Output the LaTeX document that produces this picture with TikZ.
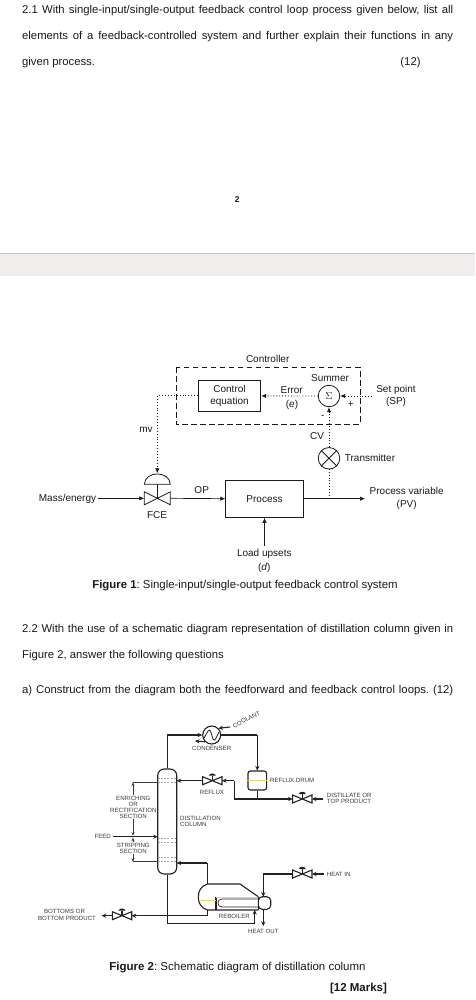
\documentclass[tikz,border=0pt]{standalone}
\usepackage{fontspec}
\setmainfont{Liberation Sans}
\usetikzlibrary{arrows.meta,calc}
\frenchspacing
\definecolor{bandfill}{HTML}{F1EEED}
\definecolor{bandedge}{HTML}{C9C7C6}
\definecolor{ink}{HTML}{1A1A1A}
\definecolor{smallink}{HTML}{3A3A3A}
\definecolor{pipe}{HTML}{222222}
\definecolor{yel}{HTML}{E3D96A}
\newcommand{\bodyline}[2]{\makebox[#1pt][s]{#2}}
\newcommand{\valvesym}[3]{%
  \coordinate (#1) at (#2,#3);
  \coordinate (#1-l) at (#2-9.7,#3);
  \coordinate (#1-r) at (#2+9.7,#3);
  \draw[pipeline] (#2-9.7,#3-4) -- (#2+9.7,#3+4) -- (#2+9.7,#3-4) -- (#2-9.7,#3+4) -- cycle;
  \draw[pipeline] (#2,#3) -- (#2,#3-5);
  \fill[pipe] (#2-3.5,#3-5) .. controls (#2-3,#3-8) and (#2+3,#3-8) .. (#2+3.5,#3-5) -- cycle;
}
\tikzset{
  x=1pt,y=-1pt,
  body/.style={font=\fontsize{11.3}{13}\selectfont,text=ink,inner sep=0pt},
  bodyleft/.style={body,anchor=west},
  lab/.style={font=\fontsize{10}{11}\selectfont,text=ink,inner sep=0pt,align=center},
  tiny/.style={font=\fontsize{6.1}{6.1}\selectfont,text=smallink,inner sep=0pt,align=center},
  tinyleft/.style={tiny,anchor=west,align=left},
  blockbox/.style={draw=ink,line width=.8pt,inner sep=0pt,align=center,font=\fontsize{10}{12.4}\selectfont,text=ink},
  flow/.style={draw=ink,line width=.7pt,-{Latex[length=5pt,width=4.4pt]}},
  signal/.style={draw=ink,line width=.9pt,dotted,-{Latex[length=5pt,width=4.4pt]}},
  signalplain/.style={draw=ink,line width=.9pt,dotted},
  pipeline/.style={draw=pipe,line width=1.1pt},
  pipeflow/.style={pipeline,-{Stealth[length=4.5pt,width=4.2pt]}},
  dimline/.style={draw=smallink,line width=.6pt},
  tray/.style={draw=gray!70,line width=.6pt,dash pattern=on 2pt off 1.2pt},
  yline/.style={draw=yel,line width=.9pt},
}
\begin{document}
\begin{tikzpicture}
\useasboundingbox (0,0) rectangle (475,1000);
\fill[white] (0,0) rectangle (475,1000);
% question text
\node[bodyleft] (q1a) at (22,11) {\bodyline{431}{2.1 With single-input/single-output feedback control loop process given below, list all}};
\node[bodyleft] (q1b) at (22,37) {\bodyline{431}{elements of a feedback-controlled system and further explain their functions in any}};
\node[bodyleft] (q1c) at (22,63) {given process.};
\node[body] (q1m) at (410.5,63) {(12)};
\node[font=\bfseries\fontsize{8.5}{10}\selectfont,text=ink,inner sep=0pt] (pageno) at (237.3,200) {2};
% page band
\fill[bandfill] (0,253) rectangle (475,276);
\fill[bandedge] (0,252.6) rectangle (475,254);
% Figure 1
\draw[ink,line width=.8pt,dash pattern=on 5.5pt off 3.5pt] (176,367.3) rectangle (360,424);
\node[lab] (ctrl) at (267.7,359.3) {Controller};
\node[blockbox,minimum width=62.4pt,minimum height=30.3pt] (ce) at (229.5,395.9) {Control\\equation};
\node[draw=ink,line width=.8pt,circle,minimum size=21.5pt,inner sep=0pt,text=ink] (sum) at (329,396) {$\Sigma$};
\node[draw=ink,line width=.8pt,circle,minimum size=21.5pt,inner sep=0pt] (tx) at (329,458.3) {};
\draw[ink,line width=.8pt] (tx.45) -- (tx.225) (tx.135) -- (tx.315);
\node[blockbox,minimum width=77.6pt,minimum height=37.3pt] (proc) at (264.5,498.7) {Process};
\node[lab] (summer) at (330,378) {Summer};
\node[lab] (err) at (291.7,389.7) {Error};
\node[lab] (erre) at (292,404.7) {(\emph{e})};
\node[lab] (plus) at (350.7,404.3) {+};
\node[lab] (minus) at (322.7,417.3) {-};
\node[lab] (sp) at (396,395.7) {Set point\\[1.5pt](SP)};
\node[lab] (cv) at (317,436) {CV};
\node[lab] (txl) at (370,458) {Transmitter};
\node[lab] (mv) at (146,430) {mv};
\node[lab] (op) at (201.7,490) {OP};
\node[lab] (fce) at (157,514.7) {FCE};
\node[lab] (mass) at (67.5,499.3) {Mass/energy};
\node[lab] (pv) at (406.7,498.5) {Process variable\\[2.5pt](PV)};
\node[lab] (load) at (264.3,561) {Load upsets\\[2.5pt](\emph{d})};
% FCE valve
\coordinate (fv) at (157.3,498.3);
\coordinate (fvl) at (144.3,498.3);
\coordinate (fvr) at (170.3,498.3);
\coordinate (fvt) at (157.3,473.3);
\draw[ink,line width=.8pt] (144.3,491.8) -- (170.3,504.8) -- (170.3,491.8) -- (144.3,504.8) -- cycle;
\draw[ink,line width=.8pt] (fv) -- (157.3,484.3);
\draw[ink,line width=.8pt] (144.3,484.3) .. controls (145,470.5) and (169.6,470.5) .. (170.3,484.3) -- cycle;
% Figure 1 connectors
\coordinate (mvc) at (157.3,395.9);
\coordinate (pvend) at (365,498.7);
\coordinate (pvtap) at (329,498.7);
\coordinate (spin) at (372,396);
\coordinate (massout) at (98,498.3);
\coordinate (loadtop) at (264.5,546);
\draw[signalplain] (ce.west) -- (mvc);
\draw[signal] (mvc) -- (fvt);
\draw[signal] (sum.west) -- (ce.east);
\draw[signal] (spin) -- (sum.east);
\draw[signal] (tx.north) -- (sum.south);
\draw[signalplain] (pvtap) -- (tx.south);
\draw[flow] (massout) -- (fvl);
\draw[flow] (fvr) -- (proc.west);
\draw[flow] (proc.east) -- (pvend);
\draw[flow] (loadtop) -- (proc.south);
\node[lab,font=\fontsize{11.4}{13}\selectfont] (cap1) at (245,586) {\textbf{Figure 1}: Single-input/single-output feedback control system};
% Question 2.2
\node[bodyleft] (q2a) at (22,630) {\bodyline{431}{2.2 With the use of a schematic diagram representation of distillation column given in}};
\node[bodyleft] (q2b) at (22,656) {Figure 2, answer the following questions};
\node[bodyleft] (q2c) at (22,691) {\bodyline{431}{a) Construct from the diagram both the feedforward and feedback control loops. (12)}};
% Figure 2: column
\node[draw=pipe,line width=1.1pt,minimum width=19pt,minimum height=105pt,rounded corners=6.5pt,inner sep=0pt] (col) at (167.2,821.5) {};
\draw[tray] (157.7,778.3) -- (176.7,778.3);
\draw[tray] (157.7,782.3) -- (176.7,782.3);
\draw[tray] (157.7,838.3) -- (176.7,838.3);
\draw[tray] (157.7,842.3) -- (176.7,842.3);
\draw[tray] (157.7,857.7) -- (176.7,857.7);
\draw[tray] (157.7,861.7) -- (176.7,861.7);
% condenser
\node[draw=pipe,line width=1.1pt,circle,minimum size=18pt,inner sep=0pt] (cond) at (211.7,735) {};
\draw[pipe,line width=.8pt] (204,738) -- (208,731) .. controls (209,729.5) and (210,730) .. (210.5,731) -- (213,739) .. controls (213.5,740.5) and (214.5,740.5) .. (215.5,739) -- (219,732);
\coordinate (ctop) at (167.2,735);
\draw[pipeline] (col.north) -- (ctop);
\draw[pipeflow] (ctop) -- (cond.west);
\coordinate (drumtop) at (257.3,735);
\node[draw=pipe,line width=1.1pt,minimum width=18.7pt,minimum height=19pt,rounded corners=2.5pt,inner sep=0pt] (drum) at (257.3,780.5) {};
\draw[yline] (drum.west) -- (drum.east);
\draw[pipeline] (cond.east) -- (drumtop);
\draw[pipeflow] (drumtop) -- (drum.north);
% coolant
\coordinate (coolout) at (230,727);
\coordinate (coolin) at (195,741);
\draw[pipeflow] (coolout) -- (cond.north east);
\draw[pipeflow] (cond.south west) -- (coolin);
\node[tiny,rotate=27] (coolant) at (246.5,719.5) {COOLANT};
\node[tiny] (condl) at (211.7,748.7) {CONDENSER};
\node[tinyleft] (drumL) at (270,780.3) {REFLUX DRUM};
% reflux
\coordinate (drumout) at (257.3,799);
\coordinate (refltee) at (234.3,799);
\coordinate (reflup) at (234.3,780.7);
\valvesym{rv}{212.3}{780.7}
\valvesym{dv}{302.3}{799}
\valvesym{hv}{302.3}{874}
\valvesym{bv}{122}{915.7}
\draw[pipeline] (drum.south) -- (drumout);
\draw[pipeline] (refltee) -- (drumout);
\draw[pipeflow] (drumout) -- (dv-l);
\draw[pipeline] (refltee) -- (reflup);
\draw[pipeflow] (reflup) -- (rv-r);
\coordinate (colref) at (176.7,780.7);
\draw[pipeflow] (rv-l) -- (colref);
\node[tiny] (refl) at (212,792) {REFLUX};
\coordinate (distend) at (323.3,799);
\draw[pipeflow] (distend) -- (dv-r);
\node[tinyleft] (dist) at (326.7,798.7) {DISTILLATE OR\\TOP PRODUCT};
\node[tinyleft] (dcol) at (180,821.3) {DISTILLATION\\COLUMN};
% sections
\coordinate (secA) at (133,782.3);
\coordinate (secC) at (133,861.7);
\coordinate (secA2) at (157.7,782.3);
\coordinate (secC2) at (157.7,861.7);
\draw[dimline] (secA) -- (secA2);
\draw[dimline] (secC) -- (secC2);
\draw[dimline,{Stealth[length=3.5pt,width=3pt]}-] (secA) -- (133,795);
\draw[dimline,-{Stealth[length=3.5pt,width=3pt]}] (133,819) -- (133,835.7);
\draw[dimline,{Stealth[length=3.5pt,width=3pt]}-] (133,837.7) -- (133,842);
\draw[dimline,-{Stealth[length=3.5pt,width=3pt]}] (133,854) -- (secC);
\node[tiny,fill=white,inner ysep=.5pt] (enr) at (133.3,807.3) {ENRICHING\\OR\\RECTIFICATION\\SECTION};
\node[tiny,fill=white,inner ysep=.5pt] (stp) at (133.3,848) {STRIPPING\\SECTION};
\node[tiny] (feed) at (102.7,836.7) {FEED};
\coordinate (feedst) at (112.7,836.7);
\coordinate (feedend) at (157.7,836.7);
\draw[pipeflow] (feedst) -- (feedend);
% reboiler
\coordinate (rbtop) at (207.3,884);
\coordinate (rbout) at (207.3,863);
\coordinate (colrb) at (176.7,863);
\draw[pipeline] (rbtop) -- (rbout);
\draw[pipeflow] (rbout) -- (colrb);
\draw[pipeline] (258.3,896.7) -- (240,884) -- (rbtop) .. controls (201,886) and (198.3,891) .. (198.3,897) .. controls (198.3,903) and (201,908) .. (207.3,910) -- (258.3,910);
\draw[pipeline,rounded corners=4pt] (258.3,896.7) -- (270.7,896.7) -- (270.7,909.3) -- (258.3,909.3) -- cycle;
\draw[pipeline] (258.3,896.7) -- (258.3,910);
\draw[pipeline] (216,896.5) -- (216,909.5);
\draw[pipe,line width=.7pt] (258.3,899) -- (222,899) .. controls (216.5,899) and (216.5,907) .. (222,907) -- (258.3,907);
\draw[yline] (216,897.7) -- (258.3,897.7);
\draw[yline] (199,900.7) -- (216,900.7);
\node[tiny] (rebl) at (234.3,916) {REBOILER};
% reboiler piping
\coordinate (hvturn) at (263.3,874);
\coordinate (heatout) at (263.3,926);
\coordinate (heatinst) at (324,874);
\coordinate (headtop) at (263.3,896.7);
\coordinate (headbot) at (263.3,909.3);
\draw[pipeline] (hv-l) -- (hvturn);
\draw[pipeflow] (hvturn) -- (headtop);
\draw[pipeflow] (headbot) -- (heatout);
\draw[pipeflow] (heatinst) -- (hv-r);
\node[tinyleft] (hin) at (326.7,874) {HEAT IN};
\node[tiny] (hout) at (263.3,931) {HEAT OUT};
\coordinate (colb) at (167.2,923.3);
\coordinate (rbret) at (254.7,923.3);
\coordinate (rbretend) at (254.7,910);
\draw[pipeline] (col.south) -- (colb) -- (rbret);
\draw[pipeflow] (rbret) -- (rbretend);
\coordinate (bsh) at (207.3,910);
\coordinate (bturn) at (207.3,915.7);
\draw[pipeline] (bsh) -- (bturn);
\draw[pipeflow] (bturn) -- (bv-r);
\coordinate (botend) at (101.7,915.7);
\draw[pipeflow] (bv-l) -- (botend);
\node[tiny] (bot) at (67,914.9) {\hspace*{-5pt}BOTTOMS OR\\BOTTOM PRODUCT};
\node[lab,font=\fontsize{11.5}{13}\selectfont] (cap2) at (237.5,967.5) {\textbf{Figure 2}: Schematic diagram of distillation column};
\node[lab,font=\bfseries\fontsize{11.5}{13}\selectfont] (marks) at (358.5,988.5) {[12 Marks]};
\end{tikzpicture}
\end{document}
